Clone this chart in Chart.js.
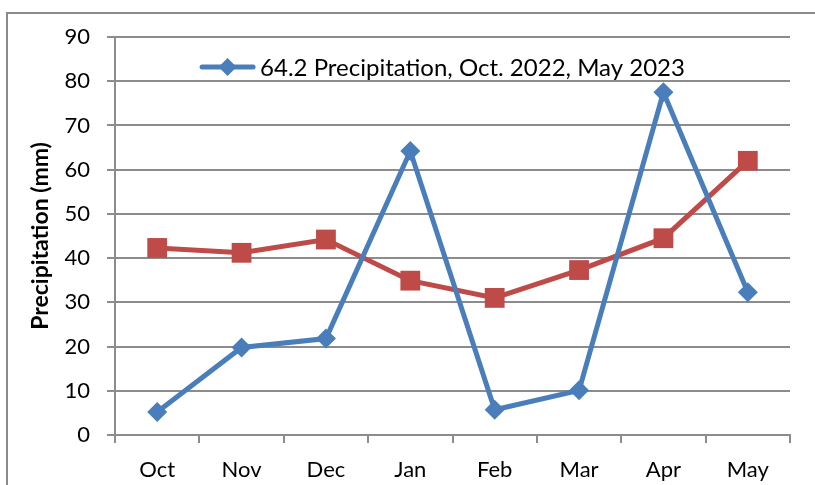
<!DOCTYPE html>
<html>
<head>
<meta charset="utf-8">
<style>
  html, body { margin: 0; padding: 0; background: #fff; }
  canvas { display: block; }
</style>
<script src="https://cdn.jsdelivr.net/npm/chart.js@4.4.1/dist/chart.umd.min.js"></script>
</head>
<body>
<canvas id="chart" width="815" height="485"></canvas>
<script>
// Monthly precipitation, October 2022 to May 2023
const months = ['Oct', 'Nov', 'Dec', 'Jan', 'Feb', 'Mar', 'Apr', 'May'];
const precip2223 = [5.2, 19.8, 21.8, 64.2, 5.7, 10.1, 77.5, 32.3];
const precipOther = [42.3, 41.2, 44.2, 34.9, 31.0, 37.3, 44.5, 62.0];
const yTicks = [0, 10, 20, 30, 40, 50, 60, 70, 80, 90];

const BLUE = '#4A7EBB';
const RED = '#BE4B48';
const GRID = '#8C8C8C';
const FONT = 'Lato, "Open Sans", sans-serif';

// Frame line along the top and left edge of the chart object
const framePlugin = {
  id: 'frame',
  beforeDraw(chart) {
    const ctx = chart.ctx;
    ctx.save();
    ctx.strokeStyle = '#8A8A8A';
    ctx.lineWidth = 2;
    ctx.beginPath();
    ctx.moveTo(7, chart.height);
    ctx.lineTo(7, 13);
    ctx.lineTo(chart.width, 13);
    ctx.stroke();
    ctx.restore();
  }
};

// Single-entry legend drawn inside the plot area, near its top
const innerLegend = {
  id: 'innerLegend',
  afterDraw(chart) {
    const ds = chart.data.datasets[0];
    const area = chart.chartArea;
    const ctx = chart.ctx;
    ctx.save();
    ctx.font = '24px ' + FONT;
    const textW = ctx.measureText(ds.label).width;
    const lineW = 55, gap = 5;
    const total = lineW + gap + textW;
    const x0 = (area.left + area.right) / 2 - total / 2 - 10;
    const y = area.top + 30;
    ctx.strokeStyle = ds.borderColor;
    ctx.lineWidth = 5;
    ctx.lineCap = 'round';
    ctx.beginPath();
    ctx.moveTo(x0 + 2, y);
    ctx.lineTo(x0 + lineW - 2, y);
    ctx.stroke();
    const cx = x0 + lineW / 2, r = 9;
    ctx.fillStyle = ds.borderColor;
    ctx.beginPath();
    ctx.moveTo(cx - r, y);
    ctx.lineTo(cx, y - r);
    ctx.lineTo(cx + r, y);
    ctx.lineTo(cx, y + r);
    ctx.closePath();
    ctx.fill();
    ctx.fillStyle = '#000';
    ctx.textBaseline = 'middle';
    ctx.textAlign = 'left';
    ctx.fillText(ds.label, x0 + lineW + gap, y + 1);
    ctx.restore();
  }
};

new Chart(document.getElementById('chart'), {
  type: 'line',
  data: {
    labels: months,
    datasets: [
      {
        label: '64.2 Precipitation, Oct. 2022, May 2023',
        data: precip2223,
        borderColor: BLUE,
        backgroundColor: BLUE,
        borderWidth: 5,
        pointStyle: 'rectRot',
        pointRadius: 10,
        pointHoverRadius: 10,
        pointBorderWidth: 0,
        pointBackgroundColor: BLUE,
        tension: 0
      },
      {
        label: 'Comparison series',
        data: precipOther,
        borderColor: RED,
        backgroundColor: RED,
        borderWidth: 5,
        pointStyle: 'rect',
        pointRadius: 14,
        pointHoverRadius: 14,
        pointBorderWidth: 0,
        pointBackgroundColor: RED,
        tension: 0
      }
    ]
  },
  options: {
    responsive: false,
    animation: false,
    devicePixelRatio: 1,
    layout: { padding: { top: 37, right: 25, bottom: 0, left: 0 } },
    plugins: {
      legend: { display: false },
      tooltip: { enabled: false }
    },
    scales: {
      x: {
        type: 'category',
        offset: true,
        grid: {
          offset: true,
          drawOnChartArea: false,
          drawTicks: true,
          tickLength: 8,
          color: GRID,
          lineWidth: 2
        },
        border: { color: GRID, width: 2 },
        ticks: {
          color: '#000',
          font: { family: FONT, size: 22 },
          padding: 14,
          maxRotation: 0,
          autoSkip: false
        },
        afterFit(scale) { scale.height = 50; }
      },
      y: {
        min: 0,
        max: 90,
        afterBuildTicks(scale) { scale.ticks = yTicks.map(v => ({ value: v })); },
        grid: {
          color: GRID,
          lineWidth: 2,
          drawTicks: true,
          tickLength: 8
        },
        border: { color: GRID, width: 2 },
        ticks: {
          color: '#000',
          font: { family: FONT, size: 22 },
          padding: 17
        },
        title: {
          display: true,
          text: 'Precipitation (mm)',
          color: '#000',
          font: { family: FONT, size: 23, weight: 'bold' },
          padding: { top: 27, bottom: 0 }
        },
        afterFit(scale) { scale.width = 115; }
      }
    }
  },
  plugins: [framePlugin, innerLegend]
});
</script>
</body>
</html>
